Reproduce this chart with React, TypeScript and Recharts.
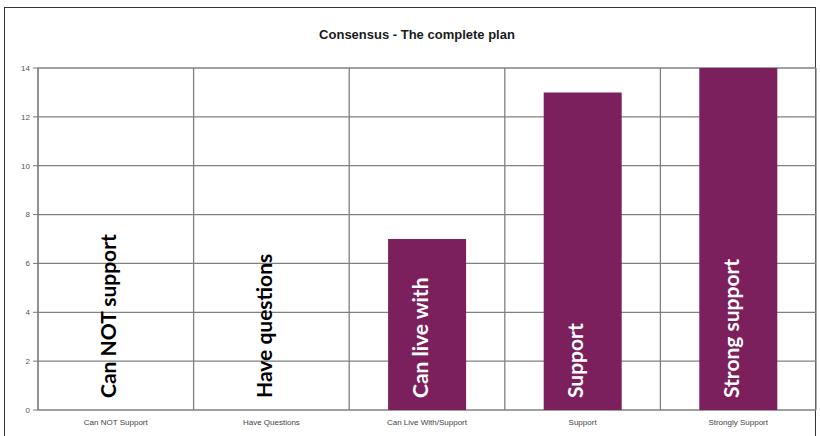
import React from "react";
import { BarChart, Bar, XAxis, YAxis, CartesianGrid } from "recharts";

const categories = ["Can NOT Support", "Have Questions", "Can Live With/Support", "Support", "Strongly Support"];
const votes = [0, 0, 7, 13, 14];
const bandLabels = ["Can NOT support", "Have questions", "Can live with", "Support", "Strong support"];
const yTicks = [0, 2, 4, 6, 8, 10, 12, 14];
const boundaryTicks = [0, 1, 2, 3, 4, 5];
const title = "Consensus - The complete plan";

const data = categories.map((c, i) => ({ name: c, value: votes[i], pos: i }));

const BAR_COLOR = "#7b1f5d";
const TICK_MARGIN = 3;
const TICK_SIZE = 6;

const CategoryTick = (props: any) => {
  const { x, y, payload } = props;
  const idx = payload.index;
  const v = votes[idx];
  const bottom = Number(y) - TICK_MARGIN - TICK_SIZE;
  return (
    <g>
      <text
        x={x}
        y={y}
        dy="0.71em"
        textAnchor="middle"
        fill="#444"
        fontSize={8}
        fontFamily="'Liberation Sans', Arial, sans-serif"
      >
        {payload.value}
      </text>
      <text
        transform={`translate(${Number(x) - 8}, ${bottom - 12}) rotate(-90)`}
        textAnchor="start"
        dominantBaseline="central"
        fill={v > 0 ? "#ffffff" : "#000000"}
        fontFamily="Lato, 'Open Sans', sans-serif"
        fontWeight={700}
        fontSize={21}
      >
        {bandLabels[idx]}
      </text>
    </g>
  );
};

export default function App() {
  return (
    <div style={{ position: "absolute", left: 0, top: 0, width: 820, height: 436, background: "#fff", overflow: "hidden" }}>
      <div
        style={{
          position: "absolute",
          left: 4,
          top: 7,
          width: 812,
          height: 440,
          border: "1.5px solid #333",
          boxSizing: "border-box",
        }}
      />
      <div
        style={{
          position: "absolute",
          left: 0,
          top: 27,
          width: 834,
          textAlign: "center",
          fontFamily: "'Liberation Sans', Arial, sans-serif",
          fontWeight: 700,
          fontSize: 13,
          color: "#1a1a1a",
        }}
      >
        {title}
      </div>
      <div style={{ position: "absolute", left: 0, top: 0 }}>
        <BarChart
          width={820}
          height={436}
          data={data}
          margin={{ top: 68, right: 4, bottom: 0, left: 0 }}
          barCategoryGap="25%"
        >
          <CartesianGrid xAxisId="grid" stroke="#808080" strokeWidth={1.3} />
          <XAxis
            xAxisId="grid"
            dataKey="pos"
            type="number"
            domain={[0, 5]}
            ticks={boundaryTicks}
            height={0}
            tickSize={5}
            tickFormatter={() => ""}
            axisLine={{ stroke: "#777" }}
            tickLine={{ stroke: "#777" }}
            allowDataOverflow
          />
          <XAxis
            dataKey="name"
            height={26}
            axisLine={false}
            tickLine={false}
            tickSize={TICK_SIZE}
            tick={<CategoryTick />}
            tickMargin={TICK_MARGIN}
            interval={0}
          />
          <YAxis
            width={38}
            domain={[0, 14]}
            ticks={yTicks}
            tickSize={5}
            tickMargin={3}
            axisLine={{ stroke: "#777" }}
            tickLine={{ stroke: "#777" }}
            tick={{ fontSize: 8, fill: "#555", fontFamily: "'Liberation Sans', Arial, sans-serif" }}
          />
          <Bar dataKey="value" fill={BAR_COLOR} isAnimationActive={false} />
        </BarChart>
      </div>
    </div>
  );
}
